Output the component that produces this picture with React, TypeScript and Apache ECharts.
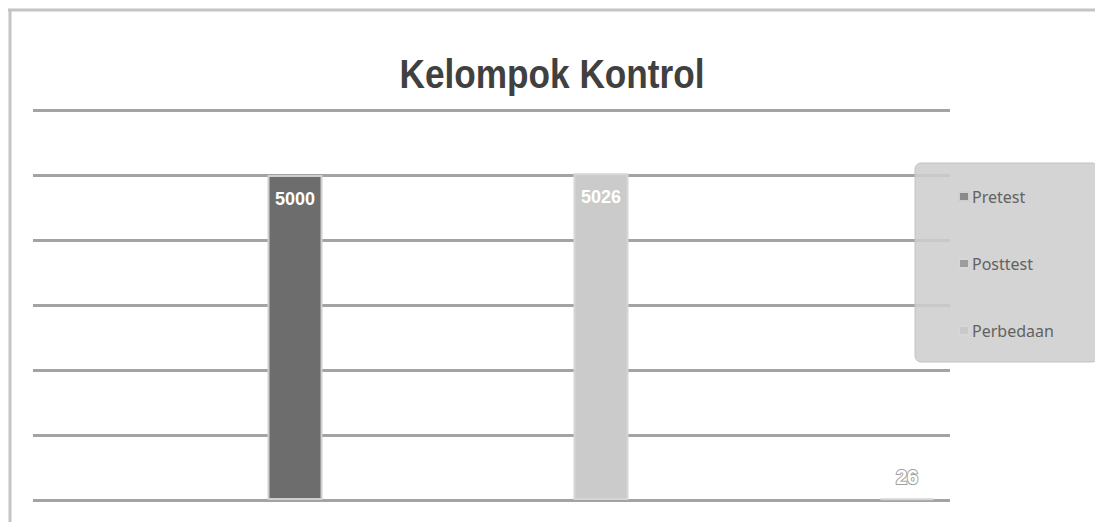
import React, { useEffect, useRef } from "react";
import * as echarts from "echarts";

const categories = ["Pretest", "Posttest", "Perbedaan"];
const values = [5000, 5026, 26];
const barColors = ["#6d6d6d", "#cbcbcb", "#d9d9d9"];
const iconColors = ["#8a8a8a", "#9c9c9c", "#c9c9c9"];
const yTicks = [0, 1000, 2000, 3000, 4000, 5000, 6000];
const titleText = "Kelompok Kontrol";

export default function App() {
  const ref = useRef<HTMLDivElement>(null);
  useEffect(() => {
    if (!ref.current) return;
    const chart = echarts.init(ref.current, null, { renderer: "svg" });
    const yMax = yTicks[yTicks.length - 1];
    const series = categories.map((name, i) => ({
      name,
      type: "bar",
      xAxisIndex: 1,
      yAxisIndex: 1,
      barWidth: 55,
      barGap: "-100%",
      data: categories.map((_, j) => (j === i ? values[i] : null)),
      itemStyle: {
        color: barColors[i],
        borderColor: i === 0 ? "#cfcfcf" : "#d6d6d6",
        borderWidth: 2,
      },
      label: {
        show: true,
        position: i === 2 ? "top" : "insideTop",
        distance: i === 2 ? 11 : 15,
        color: "#ffffff",
        fontFamily: "Liberation Sans",
        fontWeight: "bold",
        fontSize: i === 2 ? 20 : 18,
        textBorderColor: i === 2 ? "#a0a0a0" : "transparent",
        textBorderWidth: i === 2 ? 2 : 0,
      },
      z: 2,
    }));
    chart.setOption({
      animation: false,
      backgroundColor: "#ffffff",
      grid: [
        { left: 33, right: 153, top: 110, bottom: 22 },
        { left: 142, right: 43, top: 110, bottom: 22 },
      ],
      xAxis: [
        { type: "category", gridIndex: 0, data: [""], show: false },
        { type: "category", gridIndex: 1, data: categories, show: false },
      ],
      yAxis: [
        {
          type: "value",
          gridIndex: 0,
          min: 0,
          max: yMax,
          interval: 1000,
          axisLabel: { show: false },
          axisLine: { show: false },
          axisTick: { show: false },
          splitLine: { show: true, lineStyle: { color: "#a3a3a3", width: 3 } },
        },
        {
          type: "value",
          gridIndex: 1,
          min: 0,
          max: yMax,
          interval: 1000,
          show: false,
          splitLine: { show: false },
        },
      ],
      legend: {
        orient: "vertical",
        left: 953,
        top: 183,
        itemWidth: 10,
        itemHeight: 9,
        itemGap: 50,
        icon: "rect",
        z: 20,
        textStyle: {
          fontFamily: "Noto Sans",
          fontSize: 16,
          color: "#626262",
          lineHeight: 17,
          padding: [0, 0, 0, -2],
        },
        data: categories.map((name, i) => ({ name, itemStyle: { color: iconColors[i] } })),
      },
      graphic: [
        {
          type: "line",
          shape: { x1: 8, y1: 10, x2: 1103, y2: 10 },
          style: { stroke: "#c4c4c4", lineWidth: 3 },
          z: 1,
        },
        {
          type: "line",
          shape: { x1: 10, y1: 9, x2: 10, y2: 522 },
          style: { stroke: "#c4c4c4", lineWidth: 3 },
          z: 1,
        },
        {
          type: "text",
          x: 552,
          y: 74,
          scaleX: 0.88,
          scaleY: 1,
          style: {
            text: titleText,
            fontFamily: "Liberation Sans",
            fontWeight: "bold",
            fontSize: 40,
            fill: "#404040",
            textAlign: "center",
            textVerticalAlign: "middle",
          },
          z: 5,
        },
        {
          type: "rect",
          shape: { x: 915, y: 163, width: 183, height: 199, r: 6 },
          style: { fill: "rgba(206,206,206,0.88)", stroke: "#c2c2c2", lineWidth: 1 },
          z: 10,
        },
      ],
      series,
    });
    return () => chart.dispose();
  }, []);
  return <div ref={ref} style={{ width: 1103, height: 522, marginLeft: -8, marginTop: -8 }} />;
}
